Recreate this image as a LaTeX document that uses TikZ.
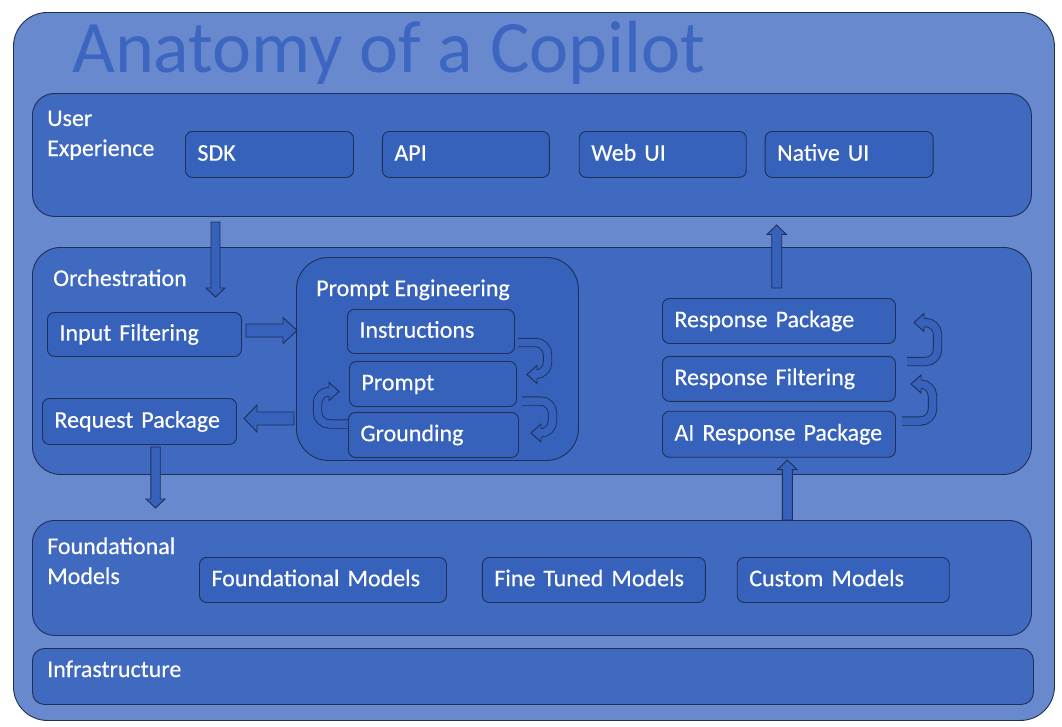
\documentclass[tikz,border=0pt]{standalone}
\usepackage{fontspec}
\setmainfont{Carlito}
\newfontfamily\lblfont{Carlito}[FakeBold=0.3]
\usetikzlibrary{positioning,calc}

\definecolor{bgblue}{HTML}{6889CD}
\definecolor{laybl}{HTML}{4069C0}
\definecolor{boxbl}{HTML}{3662BC}
\definecolor{edge}{HTML}{1F2F55}
\definecolor{ttlbl}{HTML}{3D66C1}

\newcommand{\lbl}{\lblfont\fontsize{24}{30}\selectfont}

\tikzset{
  lhead/.pic={\filldraw[draw=edge,fill=boxbl,line width=0.9pt]
    (0,-4.6) -- (0,-9) -- (-10,0) -- (0,9) -- (0,4.6);}
}

\begin{document}
\begin{tikzpicture}[x=1pt,y=-1pt,
  frame/.style={draw=edge,fill=bgblue,line width=0.9pt,rounded corners=34pt,anchor=north west,inner sep=0pt},
  layer/.style={draw=edge,fill=laybl,line width=0.9pt,anchor=north west,inner sep=0pt,minimum width=999pt},
  lab/.style={anchor=base west,inner sep=0pt,text=white,font=\lbl,align=left},
  box/.style={draw=edge,fill=boxbl,line width=0.9pt,rounded corners=7pt,text=white,font=\lbl,align=left,
    text width=#1,inner xsep=12pt,inner ysep=0pt,minimum height=45pt,text height=17pt,text depth=4.5pt,anchor=north west},
  blk/.style n args={3}{draw=edge,fill=boxbl,line width=0.9pt,
    to path={($(\tikztostart)!#1!90:(\tikztotarget)$)
      -- ($($(\tikztotarget)!#3!(\tikztostart)$)!#1!90:(\tikztotarget)$)
      -- ($($(\tikztotarget)!#3!(\tikztostart)$)!#2!90:(\tikztotarget)$)
      -- (\tikztotarget)
      -- ($($(\tikztotarget)!#3!(\tikztostart)$)!#2!-90:(\tikztotarget)$)
      -- ($($(\tikztotarget)!#3!(\tikztostart)$)!#1!-90:(\tikztotarget)$)
      -- ($(\tikztostart)!#1!-90:(\tikztotarget)$) -- cycle}},
  uband/.style={draw=edge,line width=0.9pt,double=boxbl,double distance=7.5pt,rounded corners=12pt}]
\useasboundingbox (0,0) rectangle (1062,726);

% frame and title
\node[frame,minimum width=1041pt,minimum height=708pt] (frm) at (13,12) {};
\node[anchor=base west,inner sep=0pt,text=ttlbl,font=\fontsize{74}{80}\selectfont] (ttl) at (72,72) {Anatomy of a Copilot};

% layers
\node[layer,minimum height=123pt,rounded corners=22pt] (ux) at (32,93) {};
\node[layer,minimum height=227pt,rounded corners=28pt] (orc) at (32,247) {};
\node[layer,minimum height=115pt,rounded corners=22pt] (fnd) at (32,520) {};
\node[layer,minimum width=1001pt,minimum height=56pt,rounded corners=12pt] (infl) at (32,648) {};

\node[lab] (uxl) at (47,156) {User\\Experience};
\node[lab] (orcl) at (53,286) {Orchestration};
\node[lab] (fndl) at (47,584) {Foundational\\Models};
\node[lab] (infll) at (47,677) {Infrastructure};

% user experience
\node[box=144pt,minimum height=46pt] (sdk) at (185,131) {SDK};
\node[box=143pt,minimum height=46pt,right=28pt of sdk] (api) {API};
\node[box=143pt,minimum height=46pt,right=29pt of api] (web) {Web UI};
\node[box=144pt,minimum height=46pt,right=18pt of web] (nat) {Native UI};

% orchestration
\node[box=170pt,minimum height=44pt] (inf) at (47,312) {Input Filtering};
\node[box=170pt,minimum height=46pt] (req) at (42,398) {Request Package};

\node[draw=edge,fill=boxbl,line width=0.9pt,rounded corners=32pt,anchor=north west,inner sep=0pt,
  minimum width=282pt,minimum height=203pt] (pe) at (296,257) {};
\node[lab] (pel) at (316,296) {Prompt Engineering};
\node[box=143pt,minimum height=44pt] (ins) at (347,309) {Instructions};
\node[box=143pt] (prm) at (349,361) {Prompt};
\node[box=146pt] (grd) at (348,412) {Grounding};

\node[box=209pt] (rpk) at (662,298) {Response Package};
\node[box=209pt,below=12pt of rpk] (rfl) {Response Filtering};
\node[box=209pt,minimum height=46pt,below=9pt of rfl] (air) {AI Response Package};

% foundational models
\node[box=223pt] (fmd) at (199,557) {Foundational Models};
\node[box=199pt,right=35pt of fmd] (ftm) {Fine Tuned Models};
\node[box=188pt,right=31pt of ftm] (cus) {Custom Models};

% block arrows
\coordinate (bs1) at (215.5,222); \coordinate (bt1) at (215.5,297);
\coordinate (bs2) at (246,330.5); \coordinate (bt2) at (297,330.5);
\coordinate (bs3) at (294,418.5); \coordinate (bt3) at (244,418.5);
\coordinate (bs4) at (155.5,447); \coordinate (bt4) at (155.5,508);
\coordinate (bs5) at (787.3,520); \coordinate (bt5) at (787.3,460);
\coordinate (bs6) at (776.7,288); \coordinate (bt6) at (776.7,225);
\draw[blk={4.5pt}{9.5pt}{9pt}] (bs1) to (bt1);
\draw[blk={6.5pt}{13pt}{14pt}] (bs2) to (bt2);
\draw[blk={6.5pt}{13.5pt}{13pt}] (bs3) to (bt3);
\draw[blk={4.7pt}{9.5pt}{9pt}] (bs4) to (bt4);
\draw[blk={5pt}{9.7pt}{9.5pt}] (bs5) to (bt5);
\draw[blk={5pt}{9.7pt}{9.5pt}] (bs6) to (bt6);

% u-turn arrows
\coordinate (ua) at (518,342.5); \coordinate (uae) at (535,374.5);
\coordinate (ub) at (522,401);   \coordinate (ube) at (539,433);
\coordinate (uc) at (348,424);   \coordinate (uce) at (331,391.5);
\coordinate (ud) at (902,421);   \coordinate (ude) at (919,384);
\coordinate (ue) at (907,361.5); \coordinate (uee) at (922,322.5);
\draw[uband] (ua) -- ++(29.5,0) |- (uae);
\draw[uband] (ub) -- ++(30.5,0) |- (ube);
\draw[uband] (uc) -- ++(-30.5,0) |- (uce);
\draw[uband] (ud) -- ++(30.5,0) |- (ude);
\draw[uband] (ue) -- ++(30.5,0) |- (uee);
\pic at (537,374.5) {lhead};
\pic at (541,433) {lhead};
\pic[xscale=-1] at (329,391.5) {lhead};
\pic at (921,384) {lhead};
\pic at (924,322.5) {lhead};
\end{tikzpicture}
\end{document}
